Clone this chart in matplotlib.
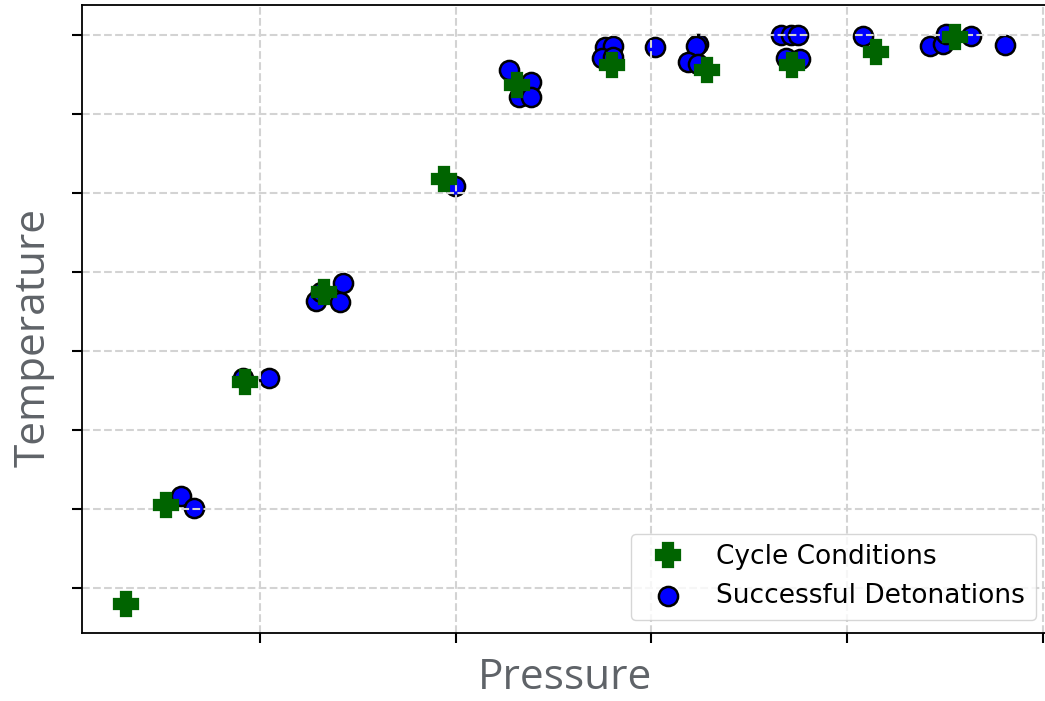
import matplotlib
matplotlib.use("Agg")
import matplotlib.pyplot as plt

# cycle operating points (pressure, temperature), arbitrary units
cycle_p = [0.316, 0.520, 0.923, 1.327, 1.939, 2.311, 2.801, 3.286, 3.719, 4.148, 4.551]
cycle_t = [-0.203, 1.051, 2.608, 3.747, 5.177, 6.367, 6.620, 6.557, 6.620, 6.785, 6.975]

# runs that detonated
det_p = [0.597, 0.663, 0.913, 1.046, 1.286, 1.311, 1.423, 1.408, 1.995,
         2.270, 2.383, 2.321, 2.383, 2.765, 2.806, 2.745, 2.806, 3.020,
         3.240, 3.230, 3.189, 3.240, 3.663, 3.714, 3.750, 3.689, 3.760,
         4.082, 4.423, 4.490, 4.505, 4.633, 4.806]
det_t = [1.165, 1.013, 2.658, 2.658, 3.633, 3.747, 3.861, 3.620, 5.089,
         6.557, 6.405, 6.215, 6.215, 6.848, 6.861, 6.709, 6.722, 6.848,
         6.886, 6.861, 6.658, 6.633, 7.000, 7.000, 7.000, 6.709, 6.696,
         6.987, 6.861, 6.886, 7.013, 6.987, 6.873]

x_ticks = [1, 2, 3, 4, 5]
y_ticks = [0, 1, 2, 3, 4, 5, 6, 7]

fig = plt.figure(figsize=(10.45, 7.01), dpi=100)
ax = fig.add_axes([82 / 1045, 68 / 701, (1049 - 82) / 1045, 628 / 701])

# detonations go under the grid, cycle points above it
ax.scatter(det_p, det_t, s=190, c="blue", edgecolors="black", linewidths=1.8,
           zorder=1, label="Successful Detonations")
ax.plot(cycle_p, cycle_t, "P", color="darkgreen", markersize=15, markeredgewidth=4.5,
        linestyle="none", zorder=2, label="Cycle Conditions")

ax.set_xticks(x_ticks)
ax.set_yticks(y_ticks)
ax.set_xticklabels([])
ax.set_yticklabels([])
ax.tick_params(length=7, width=1.5, direction="out")
for sp in ax.spines.values():
    sp.set_linewidth(1.3)

ax.grid(True, linestyle="--", color="#d3d3d3", linewidth=1.5, zorder=1.5)
ax.set_axisbelow("line")

lab_font = dict(family="Open Sans", size=30.5, color="#5f6368")
ax.set_xlabel("Pressure", labelpad=7, **lab_font)
ax.set_ylabel("Temperature", labelpad=9, **lab_font)
ax.yaxis.label.set_y(0.47)

handles, labels = ax.get_legend_handles_labels()
ax.legend(handles[::-1], labels[::-1], loc="lower right", fontsize=19, handletextpad=0.85)

fig.savefig("out.png", dpi=100)
